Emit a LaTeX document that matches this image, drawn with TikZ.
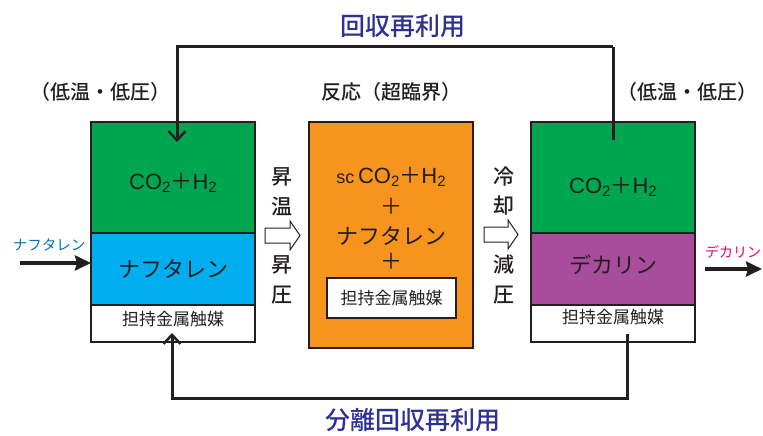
\documentclass[tikz,border=0pt]{standalone}
\usepackage{fontspec}
\setmainfont{Noto Sans CJK JP}
\newfontfamily\medfont{Noto Sans CJK JP}[UprightFont=* Medium]
\newfontfamily\latfont{Liberation Sans}
\usetikzlibrary{arrows.meta}
\definecolor{cgreen}{RGB}{0,165,80}
\definecolor{cblue}{RGB}{0,174,239}
\definecolor{corange}{RGB}{247,148,30}
\definecolor{cpurple}{RGB}{168,76,156}
\definecolor{ctitle}{RGB}{46,49,146}
\definecolor{cin}{RGB}{0,114,188}
\definecolor{cout}{RGB}{228,0,127}
\definecolor{cline}{RGB}{35,31,32}
\newcommand{\fsz}[1]{\fontsize{#1pt}{#1pt}\selectfont}
\newcommand{\subtwo}{\raisebox{-2.5pt}{\fontsize{15pt}{15pt}\selectfont 2}}
\newcommand{\cohh}{{\latfont CO\subtwo}＋{\latfont H\subtwo}}
\begin{document}
\begin{tikzpicture}[x=1pt,y=-1pt,
  box/.style={draw=cline, line width=1.4pt, minimum width=164pt, inner sep=0pt, outer sep=0pt, text=cline},
  big/.style={font=\fsz{22}, text=cline},
  cat/.style={font=\fsz{17}, text=cline},
  lbl/.style={font=\fsz{20}\medfont, text=cline},
  vert/.style={font=\fsz{21}\medfont, text=cline, align=center},
  title/.style={font=\fsz{25}\medfont, text=ctitle},
  loop/.style={draw=cline, line width=3pt, -{Straight Barb[length=9pt,width=17pt,line width=2.5pt]}},
  loopn/.style={draw=cline, line width=3pt},
  feed/.style={draw=cline, line width=3.5pt, -{Stealth[length=16pt,width=15pt,inset=2pt]}},
  hollow/.style={draw=cline, line width=1pt, fill=white, line join=miter}
]
\useasboundingbox (0,0) rectangle (763,436);

% left unit
\node[box, fill=cgreen, minimum height=111pt] (lg) at (173,177.5) {};
\node[box, fill=cblue, minimum height=72pt] (lb) at (173,269) {};
\node[box, fill=white, minimum height=37pt] (lw) at (173,323.5) {};
\node[big] (lgt) at (173,183) {\cohh};
\node[big] (lbt) at (173,269) {ナフタレン};
\node[cat] (lwt) at (173,319) {担持金属触媒};

% middle unit
\node[box, fill=corange, minimum height=226pt] (mo) at (391,235) {};
\node[big] (mt1) at (391,177) {{\latfont\fsz{18}sc}\,\cohh};
\node[big] (mt2) at (391,206) {＋};
\node[big] (mt3) at (391,236) {ナフタレン};
\node[big] (mt4) at (391,261) {＋};
\node[draw=cline, line width=1.4pt, fill=white, minimum width=129pt, minimum height=40pt, inner sep=0pt, cat] (mw) at (391.5,298) {担持金属触媒};

% right unit
\node[box, fill=cgreen, minimum height=111pt] (rg) at (613,177.5) {};
\node[box, fill=cpurple, minimum height=72pt] (rp) at (613,269) {};
\node[box, fill=white, minimum height=37pt] (rw) at (613,323.5) {};
\node[big] (rgt) at (613,187) {\cohh};
\node[big] (rpt) at (613,265) {デカリン};
\node[cat] (rwt) at (613,317) {担持金属触媒};

% labels
\node[lbl] (l1) at (100,92) {（低温・低圧）};
\node[lbl] (l2) at (391,92) {反応（超臨界）};
\node[lbl] (l3) at (687,92) {（低温・低圧）};
\node[title] (t1) at (403,26) {回収再利用};
\node[title] (t2) at (413,420) {分離回収再利用};

% vertical labels
\node[vert] (v1) at (282,177) {昇};
\node[vert] (v2) at (282,206) {温};
\node[vert] (v3) at (282,265) {昇};
\node[vert] (v4) at (282,295) {圧};
\node[vert] (v5) at (504,177) {冷};
\node[vert] (v6) at (504,206) {却};
\node[vert] (v7) at (504,265) {減};
\node[vert] (v8) at (504,295) {圧};

% hollow arrows
\draw[hollow] (265,228) -- (290,228) -- (290,221) -- (300,235.5) -- (290,250) -- (290,243) -- (265,243) -- cycle;
\draw[hollow] (484,227) -- (508,227) -- (508,220) -- (518,234.5) -- (508,249) -- (508,242) -- (484,242) -- cycle;

% feed in / out
\node[font=\fsz{14.5}, text=cin] (fin) at (49,245) {ナフタレン};
\coordinate (fins) at (20,263);
\draw[feed] (fins) -- (lb.west |- fins);
\node[font=\fsz{14}, text=cout] (fout) at (733,252) {デカリン};
\coordinate (fout2) at (762,269);
\draw[feed] (rp.east |- fout2) ++(10,0) -- (fout2);

% top recycle loop
\coordinate (ta) at (613,140);
\coordinate (tb) at (177,142);
\draw[loopn] (ta) -- (613,47);
\draw[loop] (613,47) -| (tb);

% bottom recycle loop
\coordinate (ba) at (627,334);
\coordinate (bb) at (172,333);
\draw[loop] (ba) |- (400,398) -| (bb);
\end{tikzpicture}
\end{document}
